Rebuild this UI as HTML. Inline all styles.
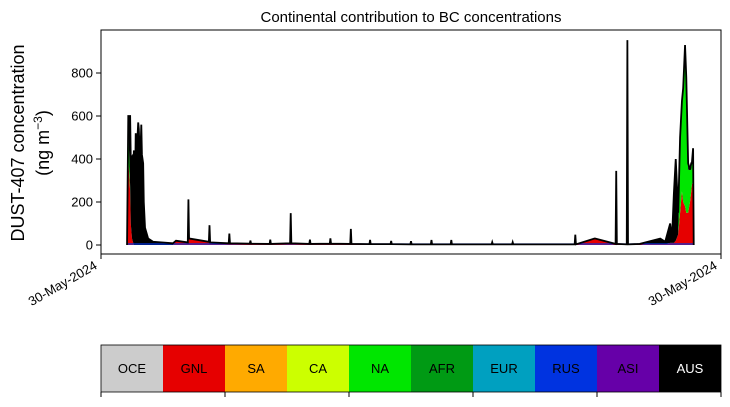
<!DOCTYPE html>
<html><head><meta charset="utf-8"><style>
body{margin:0;background:#fff;font-family:"Liberation Sans",sans-serif}
</style></head><body>
<svg width="730" height="402" xmlns="http://www.w3.org/2000/svg" font-family="Liberation Sans, sans-serif">
<text x="411" y="22" text-anchor="middle" font-size="15">Continental contribution to BC concentrations</text>
<g id="plot"></g>
<rect x="101" y="30" width="620" height="224" fill="none" stroke="#000" stroke-width="1"/>
<g id="yaxis"></g>
<text transform="translate(24,143) rotate(-90)" text-anchor="middle" font-size="18">DUST-407 concentration</text>
<text transform="translate(49,143) rotate(-90)" text-anchor="middle" font-size="18">(ng m<tspan baseline-shift="super" font-size="12">−3</tspan>)</text>
<line x1="101" y1="254" x2="101" y2="259" stroke="#000"/>
<line x1="721" y1="254" x2="721" y2="259" stroke="#000"/>
<text transform="translate(98,268) rotate(-30)" text-anchor="end" font-size="13">30-May-2024</text>
<text transform="translate(718,268) rotate(-30)" text-anchor="end" font-size="13">30-May-2024</text>
<g id="legend"></g>
</svg>
<script>
const NS="http://www.w3.org/2000/svg";
// data: time index (0..100 across axis), component values in ng m^-3
const times=[4.2,4.4,4.7,4.8,5.0,5.2,5.3,5.5,5.6,5.8,
6.0,6.1,6.3,6.5,6.6,6.8,6.9,7.1,7.6,8.4,
11.6,12.1,14.0,14.1,14.2,14.3,17.4,17.5,17.6,20.6,
20.7,20.8,24.0,24.1,24.2,27.2,27.3,27.4,30.5,30.6,
30.7,33.6,33.7,33.8,36.9,37.0,37.1,40.2,40.3,40.4,
43.3,43.4,43.5,46.7,46.8,46.9,49.9,50.0,50.1,53.2,
53.3,53.4,56.4,56.5,56.6,63.0,63.1,63.2,66.3,66.4,
66.5,76.4,76.5,76.6,79.6,79.7,83.0,83.1,83.2,84.8,
84.9,85.0,
86.9,90.2,91.0,91.8,92.1,92.4,92.7,93.1,93.4,93.7,93.9,94.2,94.4,94.7,95.0,95.2,95.3,95.5,95.6];
const gnl=[0,400,250,100,30,10,0,0,0,0,
0,0,0,0,0,0,0,0,0,0,
0,20,12,12,30,30,15,12,12,8,
8,8,6,6,6,5,5,5,8,8,
8,5,5,5,6,6,6,5,5,5,
4,4,4,4,4,4,3,3,3,3,
3,3,3,3,3,3,3,3,3,3,
3,3,3,3,30,30,5,5,5,3,
3,3,
3,5,5,10,10,10,20,50,150,250,200,180,150,150,200,250,280,300,0];
const na=[0,150,20,0,0,0,0,0,0,0,
0,0,0,0,0,0,0,0,0,0,
0,0,0,0,0,0,0,0,0,0,
0,0,0,0,0,0,0,0,0,0,
0,0,0,0,0,0,0,0,0,0,
0,0,0,0,0,0,0,0,0,0,
0,0,0,0,0,0,0,0,0,0,
0,0,0,0,0,0,0,0,0,0,
0,0,
0,0,0,0,0,0,0,0,300,400,500,700,600,200,150,100,100,100,0];
const aus=[0,50,330,300,380,240,440,300,520,450,
570,540,380,560,420,380,200,80,30,15,
8,0,0,200,0,0,0,80,0,0,
45,0,0,15,0,0,20,0,0,140,
0,0,20,0,0,25,0,0,70,0,
0,20,0,0,15,0,0,15,0,0,
20,0,0,20,0,0,10,0,0,10,
0,0,45,0,0,0,0,340,0,0,
950,0,
2,25,10,90,20,230,380,100,50,20,30,50,30,30,0,30,0,50,0];
const yTicks=[0,200,400,600,800];
const legendNames=["OCE","GNL","SA","CA","NA","AFR","EUR","RUS","ASI","AUS"];
const legendColors=["#cccccc","#e60000","#ffaa00","#ccff00","#00e600","#009a14","#00a0c0","#0033e0","#6600a8","#000000"];
const X=t=>101+t*6.2, Y=v=>245-v*43/200;
const plot=document.getElementById('plot');
const n=Math.min(times.length,gnl.length,na.length,aus.length);
const T=times.slice(0,n);
function poly(lo,hi,fill,name){
  let pts=T.map((t,i)=>X(t)+','+Y(hi[i]));
  for(let i=n-1;i>=0;i--)pts.push(X(T[i])+','+Y(lo[i]));
  const p=document.createElementNS(NS,'polygon');
  p.setAttribute('points',pts.join(' '));p.setAttribute('fill',fill);
  
  
  plot.appendChild(p);
}
const zero=T.map(()=>0);
const s1=T.map((t,i)=>gnl[i]), s2=T.map((t,i)=>gnl[i]+na[i]), s3=T.map((t,i)=>gnl[i]+na[i]+aus[i]);
poly(zero,s1,'#e60000','area-gnl');
poly(s1,s2,'#00e600','area-na');
poly(s2,s3,'#000000','area-aus');
const base=document.createElementNS(NS,'polyline');
base.setAttribute('points',T.map(t=>X(t)+','+(Y(0)-1)).join(' '));
base.setAttribute('fill','none');base.setAttribute('stroke','#0033e0');base.setAttribute('stroke-width','1.2');


plot.appendChild(base);
const totalLine=document.createElementNS(NS,'polyline');
totalLine.setAttribute('points',T.map((t,i)=>X(t)+','+Y(s3[i])).join(' '));
totalLine.setAttribute('fill','none');totalLine.setAttribute('stroke','#000');totalLine.setAttribute('stroke-width','1.8');


plot.appendChild(totalLine);
const ya=document.getElementById('yaxis');
yTicks.forEach(v=>{
  const l=document.createElementNS(NS,'line');
  l.setAttribute('x1',96);l.setAttribute('x2',101);l.setAttribute('y1',Y(v));l.setAttribute('y2',Y(v));l.setAttribute('stroke','#000');
  
  
  ya.appendChild(l);
  const tx=document.createElementNS(NS,'text');
  tx.setAttribute('x',93);tx.setAttribute('y',Y(v)+4.5);tx.setAttribute('text-anchor','end');tx.setAttribute('font-size','13');
  tx.textContent=v;
  
  
  ya.appendChild(tx);
});
const lg=document.getElementById('legend');
legendNames.forEach((nm,i)=>{
  const r=document.createElementNS(NS,'rect');
  r.setAttribute('x',101+i*62);r.setAttribute('y',345);r.setAttribute('width',62);r.setAttribute('height',47);r.setAttribute('fill',legendColors[i]);
  
  
  lg.appendChild(r);
  const t=document.createElementNS(NS,'text');
  t.setAttribute('x',132+i*62);t.setAttribute('y',373);t.setAttribute('text-anchor','middle');t.setAttribute('font-size','13');
  t.setAttribute('fill',nm==='AUS'?'#fff':'#000');t.textContent=nm;
  
  
  lg.appendChild(t);
});
const fr=document.createElementNS(NS,'rect');
fr.setAttribute('x',101);fr.setAttribute('y',345);fr.setAttribute('width',620);fr.setAttribute('height',47);fr.setAttribute('fill','none');fr.setAttribute('stroke','#000');fr.setAttribute('stroke-width','0.8');


lg.appendChild(fr);
[0,2,4,6,8,10].forEach(k=>{
  const l=document.createElementNS(NS,'line');
  l.setAttribute('x1',101+k*62);l.setAttribute('x2',101+k*62);l.setAttribute('y1',392);l.setAttribute('y2',397);l.setAttribute('stroke','#000');
  
  
  lg.appendChild(l);
});
</script>
</body></html>
